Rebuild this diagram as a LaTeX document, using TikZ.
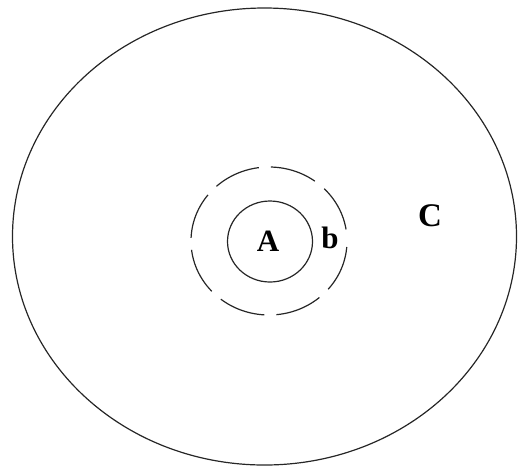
\documentclass[tikz,border=0pt]{standalone}
\usepackage{fontspec}
\setmainfont{Liberation Serif}
\begin{document}
\begin{tikzpicture}[x=1pt,y=-1pt,
  ring/.style={draw=black!85,line width=1.2pt},
  dashring/.style={ring,dash pattern=on 47pt off 12pt,dash phase=53pt},
  lbl/.style={font=\bfseries\fontsize{31}{34}\selectfont,inner sep=0pt}]
\useasboundingbox (0,0) rectangle (518,467);
\draw[ring] (264.5,236.5) ellipse [x radius=252, y radius=228.5];
\draw[dashring] (269,241) ellipse [x radius=78, y radius=74];
\draw[ring] (270,241.5) ellipse [x radius=42.5, y radius=40.5];
\node[lbl] (A) at (268,241) {A};
\node[lbl] (b) at (330,238) {b};
\node[lbl,font=\bfseries\fontsize{33}{36}\selectfont] (C) at (430,216) {C};
\end{tikzpicture}
\end{document}
